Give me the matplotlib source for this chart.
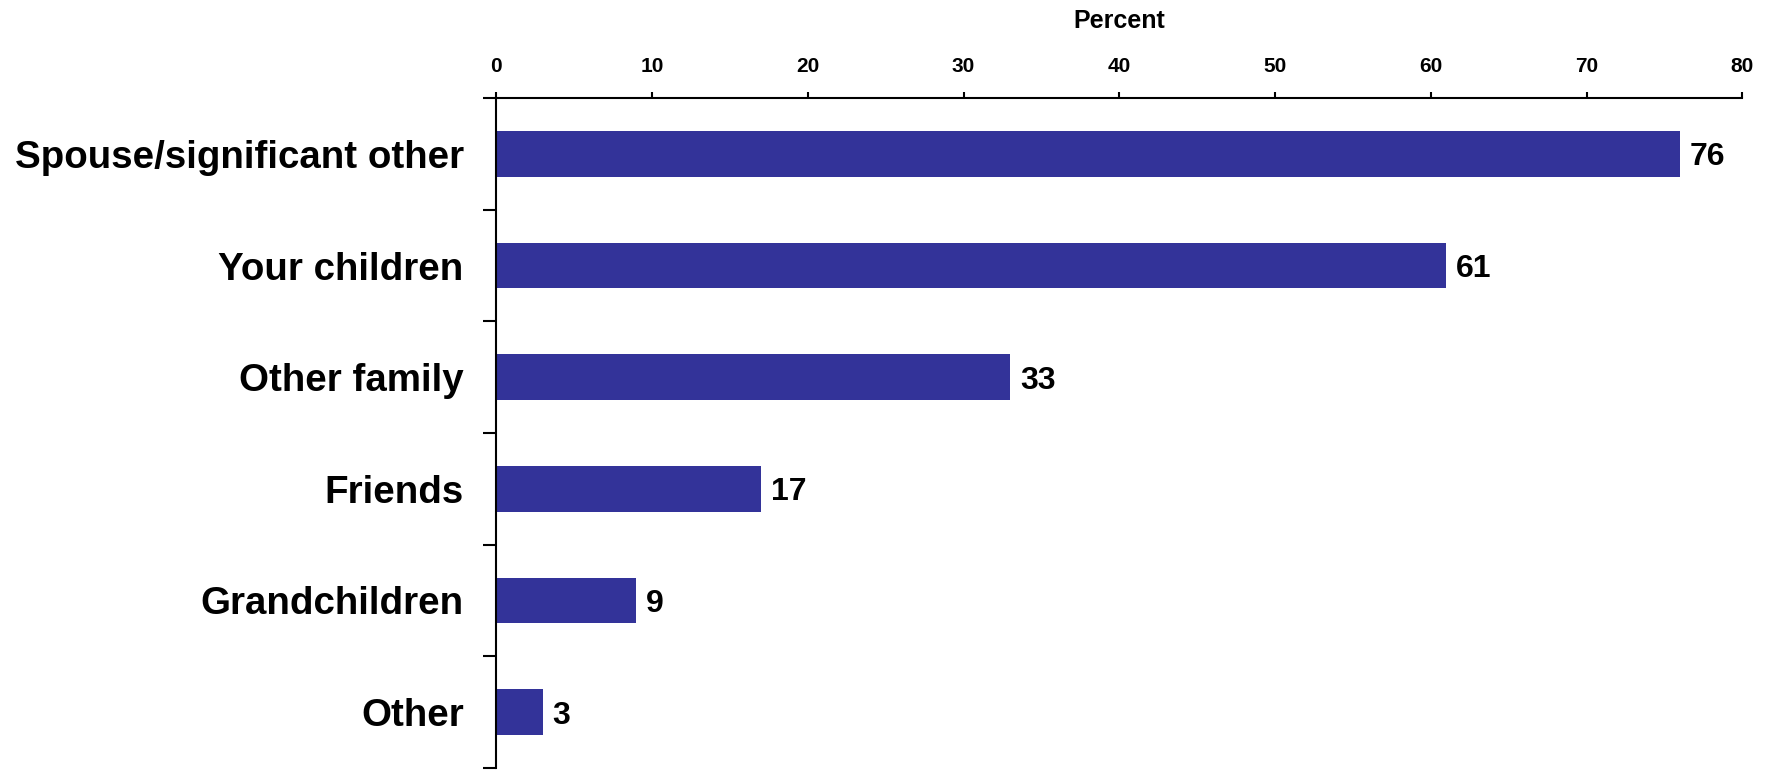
import matplotlib
matplotlib.use("Agg")
import matplotlib.pyplot as plt

categories = ["Spouse/significant other", "Your children", "Other family",
              "Friends", "Grandchildren", "Other"]
percent = [76, 61, 33, 17, 9, 3]
x_ticks = [0, 10, 20, 30, 40, 50, 60, 70, 80]

bar_color = "#333399"
font = "Liberation Sans"

W, H = 1772, 770
fig = plt.figure(figsize=(W / 100, H / 100), dpi=100)
left, right, top, bottom = 496.3, 1742.3, 98, 768
ax = fig.add_axes([left / W, 1 - bottom / H, (right - left) / W, (bottom - top) / H])

pos = list(range(len(categories)))
ax.barh(pos, percent, height=0.41, color=bar_color, zorder=2)

for y, v in zip(pos, percent):
    ax.annotate(f"{v}", xy=(v, y), xytext=(7, 0), textcoords="offset points",
                va="center_baseline", ha="left", fontsize=23, fontweight="bold",
                family=font, color="black")

ax.set_xlim(0, 80)
ax.set_ylim(len(categories) - 0.5, -0.5)

# x axis drawn along the top
ax.xaxis.tick_top()
ax.xaxis.set_label_position("top")
ax.set_xticks(x_ticks)
ax.set_xticklabels([str(t) for t in x_ticks], fontsize=15,
                   fontweight="bold", family=font)
ax.tick_params(axis="x", direction="out", length=4, width=1.5, pad=12, color="black")

# category labels, with ticks between categories
ax.set_yticks(pos)
ax.set_yticklabels(categories, fontsize=27.7, fontweight="bold", family=font)
ax.tick_params(axis="y", which="major", length=0, pad=23.5)
ax.set_yticks([p - 0.5 for p in pos] + [len(categories) - 0.5], minor=True)
ax.tick_params(axis="y", which="minor", direction="out", length=9.5, width=1.5, color="black")

for side in ("right", "bottom"):
    ax.spines[side].set_visible(False)
for side in ("left", "top"):
    ax.spines[side].set_linewidth(1.5)
    ax.spines[side].set_color("black")

fig.text((left + right) / 2 / W, 1 - 28 / H, "Percent", ha="center", va="baseline",
         fontsize=18, fontweight="bold", family=font)

fig.savefig("out.png", dpi=100, facecolor="white")
